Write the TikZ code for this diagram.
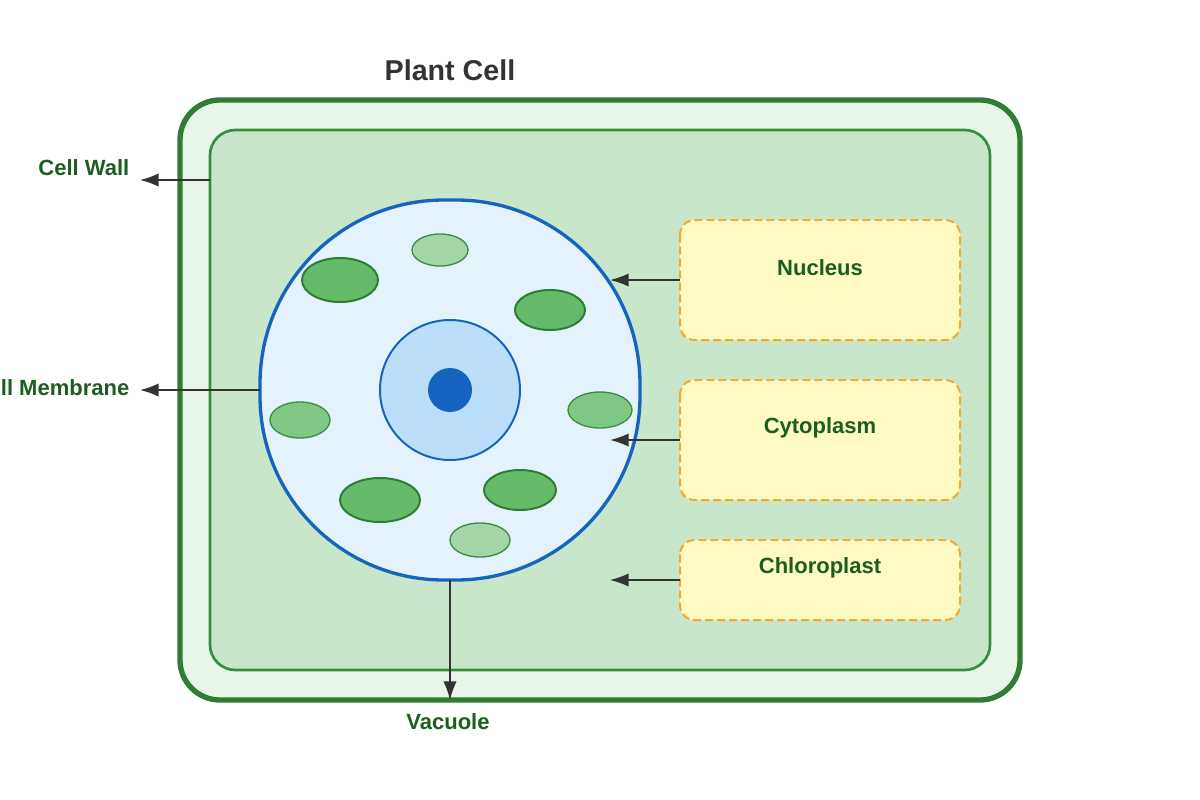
\documentclass[tikz,border=0pt]{standalone}
\usepackage{fontspec}
\setmainfont{Liberation Sans}
\usetikzlibrary{arrows.meta}
\definecolor{wallfill}{HTML}{E8F5E9}
\definecolor{walldraw}{HTML}{2E7D32}
\definecolor{memfill}{HTML}{C8E6C9}
\definecolor{memdraw}{HTML}{388E3C}
\definecolor{vacfill}{HTML}{E3F2FD}
\definecolor{vacdraw}{HTML}{1565C0}
\definecolor{nucfill}{HTML}{BBDEFB}
\definecolor{chlA}{HTML}{66BB6A}
\definecolor{chlB}{HTML}{81C784}
\definecolor{chlC}{HTML}{A5D6A7}
\definecolor{boxfill}{HTML}{FFF9C4}
\definecolor{boxdraw}{HTML}{F9A825}
\definecolor{lbl}{HTML}{1B5E20}
\definecolor{ttl}{HTML}{333333}
\definecolor{arr}{HTML}{333333}
\tikzset{
 lab/.style={font=\fontsize{16.5}{19}\selectfont\bfseries, text=lbl},
 infobox/.style={fill=boxfill, draw=boxdraw, dash pattern=on 6pt off 3pt, line width=1.5pt, rounded corners=11pt},
 conn/.style={draw=arr, line width=1.1pt, -{Latex[length=14pt,width=10pt]}},
 chl/.style={draw=walldraw, line width=1.5pt}
}
\begin{document}
\begin{tikzpicture}[x=0.75pt,y=-0.75pt]
\useasboundingbox (0,0) rectangle (1200,800);
\node[font=\fontsize{21.5}{25}\selectfont\bfseries, text=ttl] (title) at (450,70) {Plant Cell};
\draw[fill=wallfill, draw=walldraw, line width=4pt, rounded corners=30pt] (180,100) rectangle (1020,700);
\draw[fill=memfill, draw=memdraw, line width=2pt, rounded corners=19pt] (210,130) rectangle (990,670);
\draw[fill=vacfill, draw=vacdraw, line width=2.5pt, rounded corners=138pt] (260,200) rectangle (640,580);
\node[circle, minimum size=105pt, fill=nucfill, draw=vacdraw, line width=1.5pt] (nuc) at (450,390) {};
\node[circle, minimum size=33pt, fill=vacdraw, inner sep=0pt] (nucleolus) at (450,390) {};
\draw[chl, fill=chlA] (340,280) ellipse (38 and 22);
\draw[chl, fill=chlC, draw=memdraw, line width=1pt] (440,250) ellipse (28 and 16);
\draw[chl, fill=chlA] (550,310) ellipse (35 and 20);
\draw[chl, fill=chlB, draw=memdraw, line width=1pt] (600,410) ellipse (32 and 18);
\draw[chl, fill=chlB, draw=memdraw, line width=1pt] (300,420) ellipse (30 and 18);
\draw[chl, fill=chlA] (380,500) ellipse (40 and 22);
\draw[chl, fill=chlA] (520,490) ellipse (36 and 20);
\draw[chl, fill=chlC, draw=memdraw, line width=1pt] (480,540) ellipse (30 and 17);
\draw[infobox] (680,220) rectangle (960,340);
\draw[infobox] (680,380) rectangle (960,500);
\draw[infobox] (680,540) rectangle (960,620);
\node[lab] (lnuc) at (820,268) {Nucleus};
\node[lab] (lcyt) at (820,428) {Cytoplasm};
\node[lab] (lchl) at (820,568) {Chloroplast};
\node[lab, anchor=east] (lwall) at (134,168) {Cell Wall};
\node[lab, anchor=east] (lmem) at (134,388) {Cell Membrane};
\node[lab] (lvac) at (448,722) {Vacuole};
\coordinate (a1) at (680,280); \coordinate (b1) at (610,280);
\coordinate (a2) at (680,440); \coordinate (b2) at (610,440);
\coordinate (a3) at (680,580); \coordinate (b3) at (610,580);
\coordinate (a4) at (210,180); \coordinate (b4) at (140,180);
\coordinate (a5) at (260,390); \coordinate (b5) at (140,390);
\coordinate (a6) at (450,580); \coordinate (b6) at (450,700);
\draw[conn] (a1) -- (b1);
\draw[conn] (a2) -- (b2);
\draw[conn] (a3) -- (b3);
\draw[conn] (a4) -- (b4);
\draw[conn] (a5) -- (b5);
\draw[conn] (a6) -- (b6);
\end{tikzpicture}
\end{document}
